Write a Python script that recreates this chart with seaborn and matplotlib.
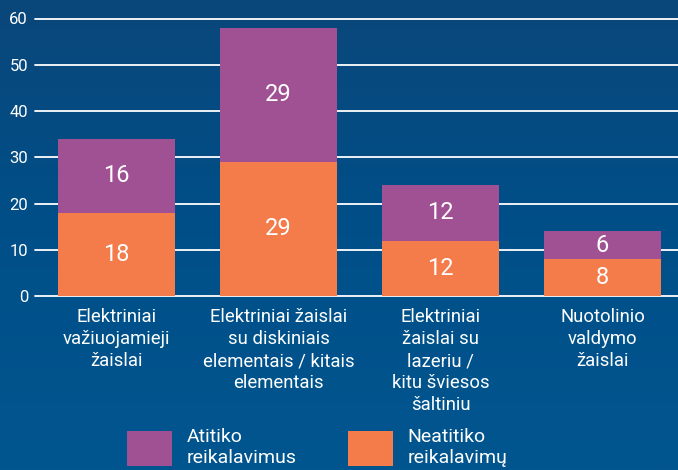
import numpy as np
import pandas as pd
import seaborn as sns
import matplotlib.pyplot as plt
from matplotlib.patches import Patch
from matplotlib.colors import LinearSegmentedColormap

# duomenys
categories = [
    "Elektriniai\nvažiuojamieji\nžaislai",
    "Elektriniai žaislai\nsu diskiniais\nelementais / kitais\nelementais",
    "Elektriniai\nžaislai su\nlazeriu /\nkitu šviesos\nšaltiniu",
    "Nuotolinio\nvaldymo\nžaislai",
]
neatitiko = [18, 29, 12, 8]
atitiko = [16, 29, 12, 6]
yticks = [0, 10, 20, 30, 40, 50, 60]

purple = "#a05193"
orange = "#f47b4a"

df = pd.DataFrame({"cat": categories, "neatitiko": neatitiko, "atitiko": atitiko})
df["total"] = df["neatitiko"] + df["atitiko"]

sns.set_style("white")
plt.rcParams["font.family"] = ["Roboto", "DejaVu Sans"]

fig = plt.figure(figsize=(6.78, 4.70), dpi=100)

# fonas - vertikalus gradientas
bg = fig.add_axes([0, 0, 1, 1], zorder=-10)
grad = np.linspace(0, 1, 256).reshape(-1, 1)
cmap = LinearSegmentedColormap.from_list("bg", ["#0a477a", "#004f89", "#02568f"])
bg.imshow(grad, aspect="auto", cmap=cmap, extent=[0, 1, 0, 1], origin="upper")
bg.axis("off")

ax = fig.add_axes([35 / 678, 1 - 296 / 470, 643 / 678, (296 - 18.5) / 470])
ax.patch.set_alpha(0)

sns.barplot(data=df, x="cat", y="total", color=purple, width=0.72,
            saturation=1, linewidth=0, ax=ax, zorder=3)
sns.barplot(data=df, x="cat", y="neatitiko", color=orange, width=0.72,
            saturation=1, linewidth=0, ax=ax, zorder=4)

# reikšmės stulpeliuose
for i, (n, a) in enumerate(zip(neatitiko, atitiko)):
    ax.text(i, n / 2, str(n), ha="center", va="center", color="white",
            fontsize=17, zorder=5)
    ax.text(i, n + a / 2, str(a), ha="center", va="center", color="white",
            fontsize=17, zorder=5)

ax.set_ylim(0, 60)
ax.set_xlim(-0.503, 3.466)
ax.set_yticks(yticks)
ax.yaxis.grid(True, color="white", linewidth=1.3, zorder=1)
for gl in ax.get_ygridlines():
    gl.set_clip_on(False)
ax.set_axisbelow(True)
for s in ax.spines.values():
    s.set_visible(False)
ax.tick_params(axis="both", length=0, colors="white")
ax.tick_params(axis="y", pad=5, labelsize=12)
ax.tick_params(axis="x", pad=9, labelsize=13.3)
for lbl in ax.get_xticklabels():
    lbl.set_linespacing(1.27)
ax.set_xlabel("")
ax.set_ylabel("")

# legenda
for color, label, xpx in [(purple, "Atitiko\nreikalavimus", 127),
                          (orange, "Neatitiko\nreikalavimų", 348)]:
    fig.legend(handles=[Patch(facecolor=color, edgecolor="none", label=label)],
               loc="upper left", bbox_to_anchor=(xpx / 678, 1 - 428 / 470),
               frameon=False, borderpad=0, borderaxespad=0,
               handlelength=2.3, handleheight=2.4, handletextpad=0.75,
               fontsize=14, labelcolor="white")

fig.savefig("out.png", dpi=100)
